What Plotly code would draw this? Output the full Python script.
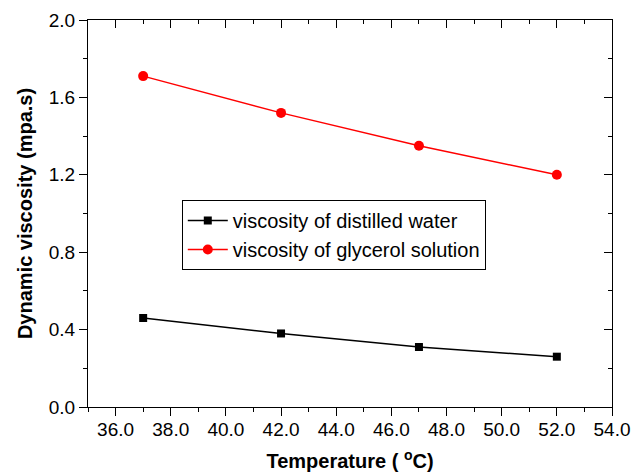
import plotly.graph_objects as go

temperature = [37, 42, 47, 52]
water_viscosity = [0.46, 0.38, 0.31, 0.26]
glycerol_viscosity = [1.71, 1.52, 1.35, 1.20]

x_ticks = [36, 38, 40, 42, 44, 46, 48, 50, 52, 54]
x_tick_labels = ["36.0", "38.0", "40.0", "42.0", "44.0", "46.0", "48.0", "50.0", "52.0", "54.0"]
y_ticks = [0.0, 0.4, 0.8, 1.2, 1.6, 2.0]
y_tick_labels = ["0.0", "0.4", "0.8", "1.2", "1.6", "2.0"]

FONT = "Liberation Sans, Arial, sans-serif"

fig = go.Figure()
fig.add_trace(go.Scatter(
    x=temperature, y=water_viscosity, mode="lines+markers",
    name="viscosity of distilled water",
    line=dict(color="black", width=1.5),
    marker=dict(symbol="square", size=8, color="black"),
))
fig.add_trace(go.Scatter(
    x=temperature, y=glycerol_viscosity, mode="lines+markers",
    name="viscosity of glycerol solution",
    line=dict(color="red", width=1.5),
    marker=dict(symbol="circle", size=10, color="red"),
))
# invisible trace for mirrored (top/right) axes
fig.add_trace(go.Scatter(x=[temperature[0]], y=[water_viscosity[0]], xaxis="x2", yaxis="y2",
                         mode="markers", marker=dict(opacity=0), showlegend=False, hoverinfo="skip"))

axis_common = dict(showgrid=False, zeroline=False, showline=True, linecolor="black", linewidth=1,
                   ticklen=8, tickwidth=1, tickcolor="black", automargin=False,
                   tickfont=dict(family=FONT, size=19, color="black"))

fig.update_layout(
    width=639, height=473,
    margin=dict(l=88, r=27, t=20, b=66),
    paper_bgcolor="white", plot_bgcolor="white",
    xaxis=dict(range=[35, 54], tickmode="array", tickvals=x_ticks, ticktext=x_tick_labels,
               ticks="outside", ticklabelstandoff=-3,
               minor=dict(dtick=1, tick0=35, ticks="outside", ticklen=4, tickcolor="black"),
               title=dict(text="<b>Temperature ( <sup>o</sup>C)</b>", font=dict(family=FONT, size=20, color="black"), standoff=15),
               **axis_common),
    yaxis=dict(range=[0, 2.0], tickmode="array", tickvals=y_ticks, ticktext=y_tick_labels,
               ticks="outside",
               minor=dict(dtick=0.2, tick0=0, ticks="outside", ticklen=4, tickcolor="black"),
               title=dict(text="<b>Dynamic viscosity (mpa.s)</b>", font=dict(family=FONT, size=20, color="black"), standoff=10),
               **axis_common),
    xaxis2=dict(range=[35, 54], overlaying="x", side="top", tickmode="array", tickvals=x_ticks,
                showticklabels=False, ticks="inside",
                minor=dict(dtick=1, tick0=35, ticks="inside", ticklen=4, tickcolor="black"),
                **axis_common),
    yaxis2=dict(range=[0, 2.0], overlaying="y", side="right", tickmode="array", tickvals=y_ticks,
                showticklabels=False, ticks="inside",
                minor=dict(dtick=0.2, tick0=0, ticks="inside", ticklen=4, tickcolor="black"),
                **axis_common),
    legend=dict(x=0.179, y=0.535, xanchor="left", yanchor="top",
                bordercolor="black", borderwidth=1, bgcolor="white",
                font=dict(family=FONT, size=20, color="black"),
                tracegroupgap=0, itemwidth=40),
    showlegend=True,
)

fig.write_html("out.html")
